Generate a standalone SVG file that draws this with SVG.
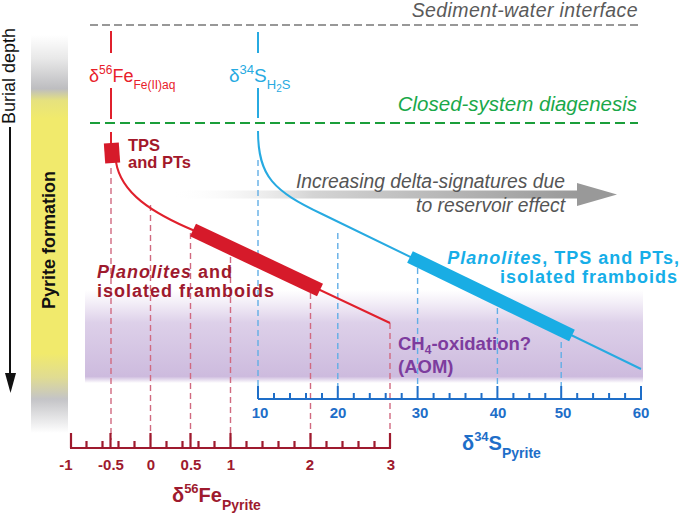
<svg xmlns="http://www.w3.org/2000/svg" width="685" height="517" viewBox="0 0 685 517">
<defs>
<linearGradient id="gBar" x1="0" y1="0" x2="0" y2="1">
<stop offset="0" stop-color="#ffffff"/>
<stop offset="0.06" stop-color="#e8e8e8"/>
<stop offset="0.135" stop-color="#bdbdc0"/>
<stop offset="0.165" stop-color="#e6e27e"/>
<stop offset="0.21" stop-color="#f1ea6c"/>
<stop offset="0.8" stop-color="#f1ea6c"/>
<stop offset="0.86" stop-color="#e0dc92"/>
<stop offset="0.915" stop-color="#c4c4c7"/>
<stop offset="1" stop-color="#ffffff"/>
</linearGradient>
<linearGradient id="gPurple" x1="0" y1="0" x2="0" y2="1">
<stop offset="0" stop-color="#e2d6ec" stop-opacity="0"/>
<stop offset="0.35" stop-color="#ddd0e9"/>
<stop offset="0.93" stop-color="#cdbbde"/>
<stop offset="1" stop-color="#cdbbde" stop-opacity="0"/>
</linearGradient>
<linearGradient id="gArrow" x1="0" y1="0" x2="1" y2="0">
<stop offset="0" stop-color="#ffffff" stop-opacity="0"/>
<stop offset="0.35" stop-color="#d4d4d4"/>
<stop offset="1" stop-color="#999999"/>
</linearGradient>
<style>
.sans{font-family:"Liberation Sans",Arial,sans-serif}
.bold{font-weight:bold}
.it{font-style:italic}
.fedash{stroke:#d06a80;stroke-width:1.4;stroke-dasharray:6 4;fill:none}
.sdash{stroke:#62aee6;stroke-width:1.4;stroke-dasharray:6 4;fill:none}
.redline{stroke:#e0202c;stroke-width:2;fill:none}
.blueline{stroke:#27aae1;stroke-width:2;fill:none}
.feaxis{stroke:#9e1a2e;stroke-width:2.2;fill:none}
.saxis{stroke:#1e6ec8;stroke-width:2;fill:none}
.felab{fill:#9e1a2e;font-size:15px;font-weight:bold;text-anchor:middle}
.slab{fill:#1e6ec8;font-size:15px;font-weight:bold;text-anchor:middle}
.biglab{font-size:18px;font-weight:bold;letter-spacing:1px}
</style>
</defs>

<g id="background-bands">
<rect x="31" y="35" width="37" height="398" fill="url(#gBar)"/>
<rect x="85" y="290" width="558" height="93" fill="url(#gPurple)"/>
</g>

<g id="burial-depth">
<line x1="10" y1="127" x2="10" y2="376" stroke="#111" stroke-width="2"/>
<polygon points="5,373 16,373 10.5,393" fill="#111"/>
<text class="sans" font-size="18" fill="#111" transform="translate(15,124) rotate(-90)">Burial depth</text>
</g>

<g id="pyrite-formation">
<text class="sans bold" font-size="18" fill="#111" text-anchor="middle" transform="translate(55,240) rotate(-90)">Pyrite formation</text>
</g>

<g id="interfaces">
<line x1="90" y1="25" x2="638" y2="25" stroke="#777" stroke-width="1.6" stroke-dasharray="8 4"/>
<text class="sans it" x="638" y="17" font-size="19.5" letter-spacing="0.4" fill="#5a5a5a" text-anchor="end">Sediment-water interface</text>
<line x1="90" y1="123" x2="638" y2="123" stroke="#1a9e3a" stroke-width="2" stroke-dasharray="10 5"/>
<text class="sans it" x="637" y="111" font-size="20.5" fill="#1aa84a" text-anchor="end">Closed-system diagenesis</text>
</g>

<g id="trend-arrow">
<rect x="170" y="190.5" width="408" height="8" fill="url(#gArrow)"/>
<polygon points="577,183 617,194.5 577,206" fill="#999"/>
<text class="sans it" x="565" y="188" font-size="19.3" fill="#555" text-anchor="end">Increasing delta-signatures due</text>
<text class="sans it" x="565" y="212" font-size="19.3" fill="#555" text-anchor="end">to reservoir effect</text>
</g>

<g id="connectors">
<path class="fedash" d="M111,168 V440 M150.5,205 V440 M190.5,233 V440 M230.5,257 V440 M310.5,293 V440 M390,323 V440"/>
<path class="sdash" d="M258,160 V386 M337.8,233 V386 M417.6,268 V386 M497.4,308 V386 M561.2,342 V386"/>
</g>

<g id="fe-curve">
<path class="redline" d="M111,31 V53 M111,88 V119 M111,132 V145"/>
<path class="redline" d="M116,162 C121,193 152,213 195,231 L390,323"/>
<rect x="104.5" y="143" width="15" height="20" fill="#d61a2a" transform="rotate(-4 112 153)"/>
<line x1="193" y1="230" x2="320" y2="290" stroke="#d61a2a" stroke-width="14"/>
<text class="sans" x="89" y="82" font-size="18" fill="#e8202a">δ<tspan font-size="12" dy="-8">56</tspan><tspan dy="8">Fe</tspan><tspan font-size="12" dy="7">Fe(II)aq</tspan></text>
</g>

<g id="s-curve">
<path class="blueline" d="M258,32 V53 M258,88 V118"/>
<path class="blueline" d="M258,131 C258,177 274,191 322,214 L641,369"/>
<line x1="410" y1="257" x2="572" y2="335.5" stroke="#19ade4" stroke-width="13"/>
<text class="sans" x="229" y="82" font-size="19" fill="#27aae1">δ<tspan font-size="13" dy="-8">34</tspan><tspan dy="8">S</tspan><tspan font-size="13" dy="7">H</tspan><tspan font-size="10" dy="3">2</tspan><tspan font-size="13" dy="-3">S</tspan></text>
</g>

<g id="label-tps">
<text class="sans bold" font-size="16.5" fill="#a3182a"><tspan x="128" y="151">TPS</tspan><tspan x="128" y="168">and PTs</tspan></text>
</g>

<g id="label-planolites-fe">
<text class="sans biglab" fill="#9e1a2e"><tspan x="97" y="277.5"><tspan class="it">Planolites</tspan> and</tspan><tspan x="97" y="297">isolated framboids</tspan></text>
</g>

<g id="label-planolites-s">
<text class="sans biglab" fill="#16aee8" text-anchor="end"><tspan x="680" y="263.5"><tspan class="it">Planolites</tspan>, TPS and PTs,</tspan><tspan x="678" y="283">isolated framboids</tspan></text>
</g>

<g id="label-aom">
<text class="sans bold" font-size="18.5" fill="#7d3c9e"><tspan x="398" y="350">CH<tspan font-size="12" dy="4">4</tspan><tspan dy="-4">-oxidation?</tspan></tspan><tspan x="398" y="373">(AOM)</tspan></text>
</g>

<g id="fe-axis">
<path class="feaxis" d="M70,448 H391"/>
<path class="feaxis" stroke-width="2" d="M71,448 V433 M110.5,448 V433 M150.5,448 V433 M190.5,448 V433 M230.5,448 V433 M310.5,448 V433 M390,448 V433 M86.5,448 V441 M102.5,448 V441 M118.5,448 V441 M134.5,448 V441 M166.5,448 V441 M182.5,448 V441 M198.5,448 V441 M214.5,448 V441 M246.5,448 V441 M262.5,448 V441 M278.5,448 V441 M294.5,448 V441 M326.5,448 V441 M342.5,448 V441 M358.5,448 V441 M374.5,448 V441"/>
<text class="sans felab" x="66" y="470">-1</text>
<text class="sans felab" x="111" y="470">-0.5</text>
<text class="sans felab" x="151" y="470">0</text>
<text class="sans felab" x="191" y="470">0.5</text>
<text class="sans felab" x="231" y="470">1</text>
<text class="sans felab" x="310" y="470">2</text>
<text class="sans felab" x="391" y="470">3</text>
<text class="sans bold" x="172" y="502" font-size="20" fill="#9e1a2e">δ<tspan font-size="13" dy="-9">56</tspan><tspan dy="9">Fe</tspan><tspan font-size="14" dy="8">Pyrite</tspan></text>
</g>

<g id="s-axis">
<path class="saxis" d="M258,399 H642"/>
<path class="saxis" d="M258,399 V386 M337.8,399 V386 M417.6,399 V386 M497.4,399 V386 M561.2,399 V386 M641,399 V386 M274,399 V393 M290,399 V393 M306,399 V393 M322,399 V393 M353.8,399 V393 M369.8,399 V393 M385.7,399 V393 M401.7,399 V393 M433.6,399 V393 M449.6,399 V393 M465.5,399 V393 M481.5,399 V393 M513.4,399 V393 M529.3,399 V393 M545.3,399 V393 M577.2,399 V393 M593.1,399 V393 M609.1,399 V393 M625.1,399 V393"/>
<text class="sans slab" x="260" y="418">10</text>
<text class="sans slab" x="338" y="418">20</text>
<text class="sans slab" x="420" y="418">30</text>
<text class="sans slab" x="498" y="418">40</text>
<text class="sans slab" x="563" y="418">50</text>
<text class="sans slab" x="641" y="418">60</text>
<text class="sans bold" x="462" y="450" font-size="20" fill="#1e6ec8">δ<tspan font-size="13" dy="-9">34</tspan><tspan dy="9">S</tspan><tspan font-size="14" dy="8">Pyrite</tspan></text>
</g>
</svg>
